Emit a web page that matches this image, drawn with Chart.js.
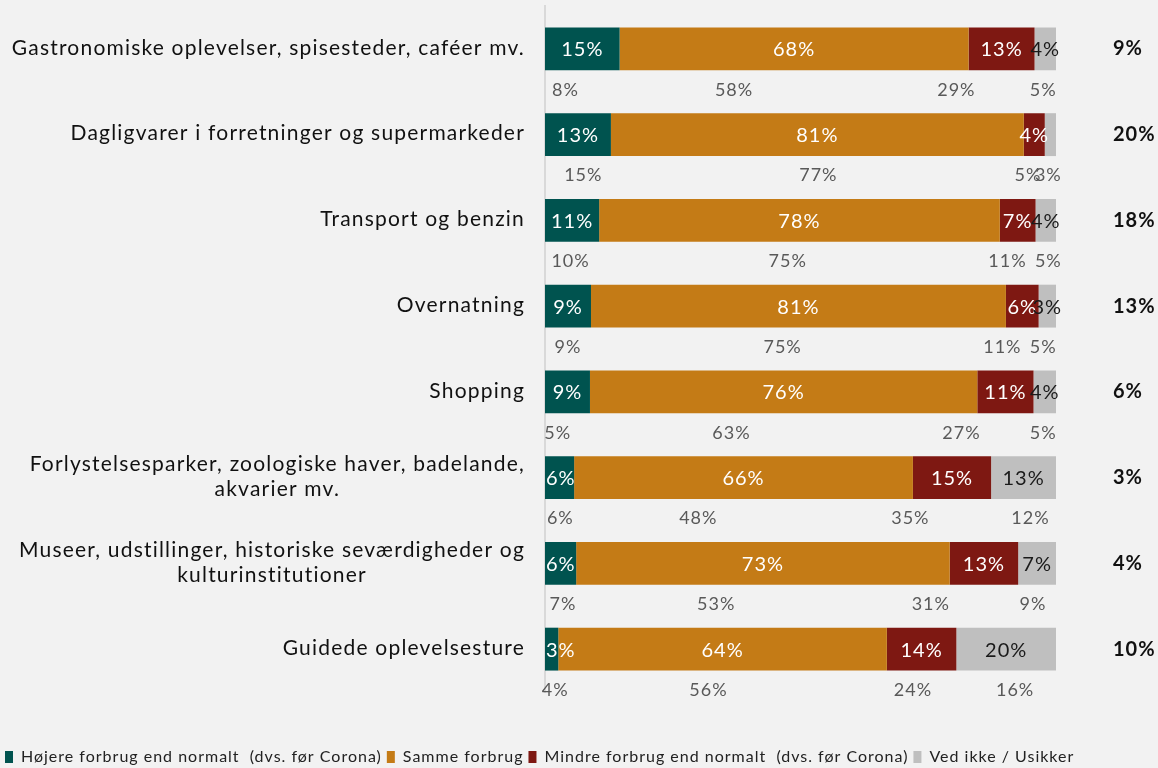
<!DOCTYPE html>
<html>
<head>
<meta charset="utf-8">
<script src="https://cdn.jsdelivr.net/npm/chart.js@4"></script>
<style>
  html, body { margin: 0; padding: 0; background: #f2f2f2; }
  #wrap { width: 1158px; height: 768px; }
</style>
</head>
<body>
<div id="wrap"><canvas id="c" width="1158" height="768"></canvas></div>
<script>
const categories = [
  'Gastronomiske oplevelser, spisesteder, caféer mv.',
  'Dagligvarer i forretninger og supermarkeder',
  'Transport og benzin',
  'Overnatning',
  'Shopping',
  ['Forlystelsesparker, zoologiske haver, badelande,', 'akvarier mv.'],
  ['Museer, udstillinger, historiske seværdigheder og', 'kulturinstitutioner'],
  'Guidede oplevelsesture'
];
const seriesNames = [
  'Højere forbrug end normalt  (dvs. før Corona)',
  'Samme forbrug',
  'Mindre forbrug end normalt  (dvs. før Corona)',
  'Ved ikke / Usikker'
];
const higher = [14.6, 12.9, 10.6, 9.0, 8.8, 5.7, 6.1, 2.6];
const same   = [68.3, 80.8, 78.4, 81.2, 75.8, 66.3, 73.1, 64.3];
const less   = [12.9, 4.1, 7.0, 6.4, 11.0, 15.3, 13.4, 13.6];
const unsure = [4.2, 2.2, 4.0, 3.4, 4.4, 12.7, 7.4, 19.5];

const prevHigher = [8, 15, 10, 9, 5, 6, 7, 4];
const prevSame   = [58, 77, 75, 75, 63, 48, 53, 56];
const prevLess   = [29, 5, 11, 11, 27, 35, 31, 24];
const prevUnsure = [5, 3, 5, 5, 5, 12, 9, 16];

const rightValues = ['9%', '20%', '18%', '13%', '6%', '3%', '4%', '10%'];

const colors = ['#00534f', '#c47b16', '#7e1812', '#bfbfbf'];
const labelColors = ['#ffffff', '#ffffff', '#ffffff', '#1a1a1a'];
const FONT = 'Lato';
const SPACING = '1px';

const current = [higher, same, less, unsure];
const previous = [prevHigher, prevSame, prevLess, prevUnsure];

function setSpacing(ctx, v) {
  if ('letterSpacing' in ctx) ctx.letterSpacing = v;
}

const labelPlugin = {
  id: 'labelPlugin',
  beforeUpdate(chart) { setSpacing(chart.ctx, SPACING); },
  beforeDraw(chart) { setSpacing(chart.ctx, SPACING); },
  afterDatasetsDraw(chart) {
    const ctx = chart.ctx;
    const xs = chart.scales.x;
    ctx.save();
    ctx.textBaseline = 'middle';
    ctx.textAlign = 'center';
    // values inside bars
    chart.data.datasets.forEach((ds, di) => {
      const meta = chart.getDatasetMeta(di);
      meta.data.forEach((bar, j) => {
        const v = ds.data[j];
        if (v < 2.5) return;
        const txt = Math.round(v) + '%';
        ctx.font = '20px ' + FONT;
        const w = ctx.measureText(txt).width;
        let cx = (bar.x + bar.base) / 2;
        cx = Math.max(cx, xs.left + w / 2 + 1);
        ctx.fillStyle = labelColors[di];
        ctx.fillText(txt, cx, bar.y + 1);
      });
    });
    // previous values below bars
    const meta0 = chart.getDatasetMeta(0);
    meta0.data.forEach((bar, j) => {
      let cum = 0;
      previous.forEach(arr => {
        const v = arr[j];
        const cx = xs.getPixelForValue(cum + v / 2);
        cum += v;
        ctx.fillStyle = '#595959';
        ctx.font = '18px ' + FONT;
        ctx.fillText(v + '%', cx, bar.y + 41);
      });
    });
    ctx.restore();
  },
  afterDraw(chart) {
    const ctx = chart.ctx;
    const ys = chart.scales.y;
    const meta0 = chart.getDatasetMeta(0);
    ctx.save();
    setSpacing(ctx, '1.2px');
    ctx.textBaseline = 'middle';
    ctx.font = '21px ' + FONT;
    ctx.fillStyle = '#111111';
    const right = ys.right - 20;
    meta0.data.forEach((bar, j) => {
      const lab = categories[j];
      const lines = Array.isArray(lab) ? lab : [lab];
      const maxW = Math.max(...lines.map(l => ctx.measureText(l).width));
      const lh = 25;
      const startY = bar.y - 1 - (lines.length - 1) * lh / 2;
      lines.forEach((l, k) => {
        if (lines.length === 1) {
          ctx.textAlign = 'right';
          ctx.fillText(l, right, startY);
        } else {
          ctx.textAlign = 'center';
          ctx.fillText(l, right - maxW / 2, startY + k * lh);
        }
      });
    });
    ctx.restore();
  }
};

new Chart(document.getElementById('c'), {
  type: 'bar',
  data: {
    labels: categories,
    datasets: current.map((arr, i) => ({
      label: seriesNames[i],
      data: arr,
      backgroundColor: colors[i],
      borderWidth: 0,
      barPercentage: 0.5,
      categoryPercentage: 1.0
    }))
  },
  options: {
    indexAxis: 'y',
    responsive: false,
    animation: false,
    layout: { padding: { top: 6, left: 0, right: 0, bottom: -7 } },
    scales: {
      x: {
        stacked: true, min: 0, max: 100,
        display: true,
        grid: { display: false },
        border: { display: false },
        ticks: { display: false },
        afterFit(s) { s.height = 52; }
      },
      y: {
        stacked: true,
        position: 'left',
        grid: { display: false, drawTicks: false },
        border: { display: true, color: '#d9d9d9', width: 2 },
        ticks: { display: false },
        afterFit(s) { s.width = 545; s.paddingTop = 0; s.paddingBottom = 0; }
      },
      y2: {
        type: 'category',
        labels: rightValues,
        position: 'right',
        offset: true,
        grid: { display: false, drawTicks: false },
        border: { display: false },
        ticks: {
          padding: 57,
          color: '#111111',
          font: { family: FONT, size: 20, weight: 'bold' }
        },
        afterFit(s) { s.width = 102; s.paddingTop = 0; s.paddingBottom = 0; }
      }
    },
    plugins: {
      tooltip: { enabled: false },
      legend: {
        position: 'bottom',
        align: 'start',
        labels: {
          boxWidth: 8,
          boxHeight: 12,
          padding: 5,
          color: '#222222',
          font: { family: FONT, size: 16 }
        }
      }
    }
  },
  plugins: [labelPlugin]
});
</script>
</body>
</html>
